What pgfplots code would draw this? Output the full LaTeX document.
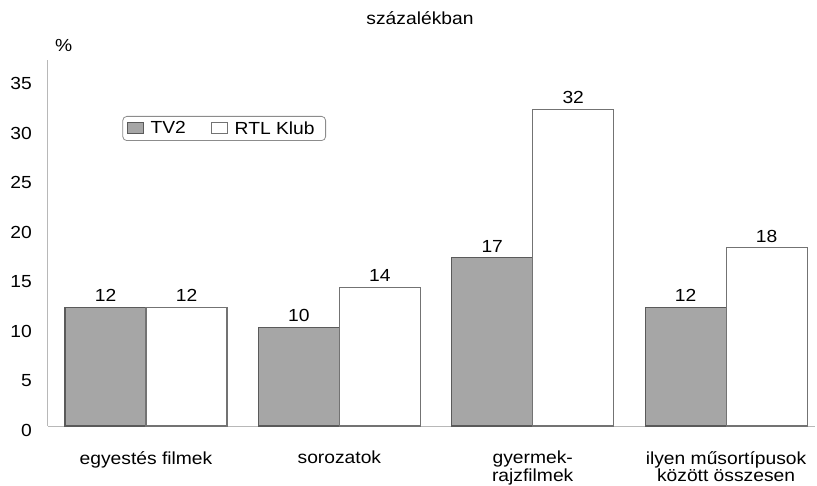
\documentclass[border=0pt]{standalone}
\usepackage{fontspec}
\setmainfont[FakeStretch=1.1]{Liberation Sans}
\usepackage{pgfplots}
\pgfplotsset{compat=1.18}
\definecolor{tvgray}{HTML}{A6A6A6}
\definecolor{bordr}{HTML}{5A5A5A}
\definecolor{axgray}{HTML}{B8B8B8}
\newcommand\f{\fontsize{17.5}{16}\selectfont}
\begin{document}
\begin{tikzpicture}[x=1pt,y=1pt]
\useasboundingbox (0,0) rectangle (817,485);
\begin{axis}[
  at={(48pt,59pt)}, anchor=south west,
  scale only axis, width=767pt, height=366pt,
  xmin=-0.507, xmax=3.46, ymin=0, ymax=37,
  axis x line*=bottom, axis y line*=left,
  axis line style={-, draw=axgray, line width=1pt},
  major tick length=0pt,
  ytick={0,5,10,15,20,25,30,35},
  yticklabel style={font=\f, inner sep=0pt, xshift=-16pt, yshift=-4pt, /pgf/number format/assume math mode=true},
  xtick={0,1,2,3},
  xticklabels={egyestés filmek, sorozatok, {gyermek-\\rajzfilmek}, {ilyen műsortípusok\\között összesen}},
  xticklabel style={font=\f, align=center, inner sep=0pt, yshift=-25pt},
  ybar=0pt, bar width=81pt,
  nodes near coords,
  every node near coord/.append style={font=\f, inner sep=0pt, yshift=5pt, black, /pgf/number format/assume math mode=true},
  legend columns=2,
  legend style={at={(0.097,0.847)}, anchor=north west, draw=black!45, line width=0.8pt, rounded corners=4pt, font=\f,
    inner xsep=4pt, inner ysep=3pt,
    nodes={inner xsep=7pt},
    /tikz/every even column/.append style={column sep=18pt}},
  legend image code/.code={\draw[#1, line width=0.8pt, sharp corners] (0pt,-5pt) rectangle (16pt,6pt);},
]
\addplot[fill=tvgray, draw=bordr, line width=1.1pt] coordinates {(0,12) (1,10) (2,17) (3,12)};
\addplot[fill=white, draw=bordr!85, line width=1.1pt] coordinates {(0,12) (1,14) (2,32) (3,18)};
\legend{TV2, RTL Klub}
\end{axis}
\node at (420,467) {\f százalékban};
\node[anchor=west, inner sep=0pt] at (55,440) {\f\%};
\end{tikzpicture}
\end{document}
